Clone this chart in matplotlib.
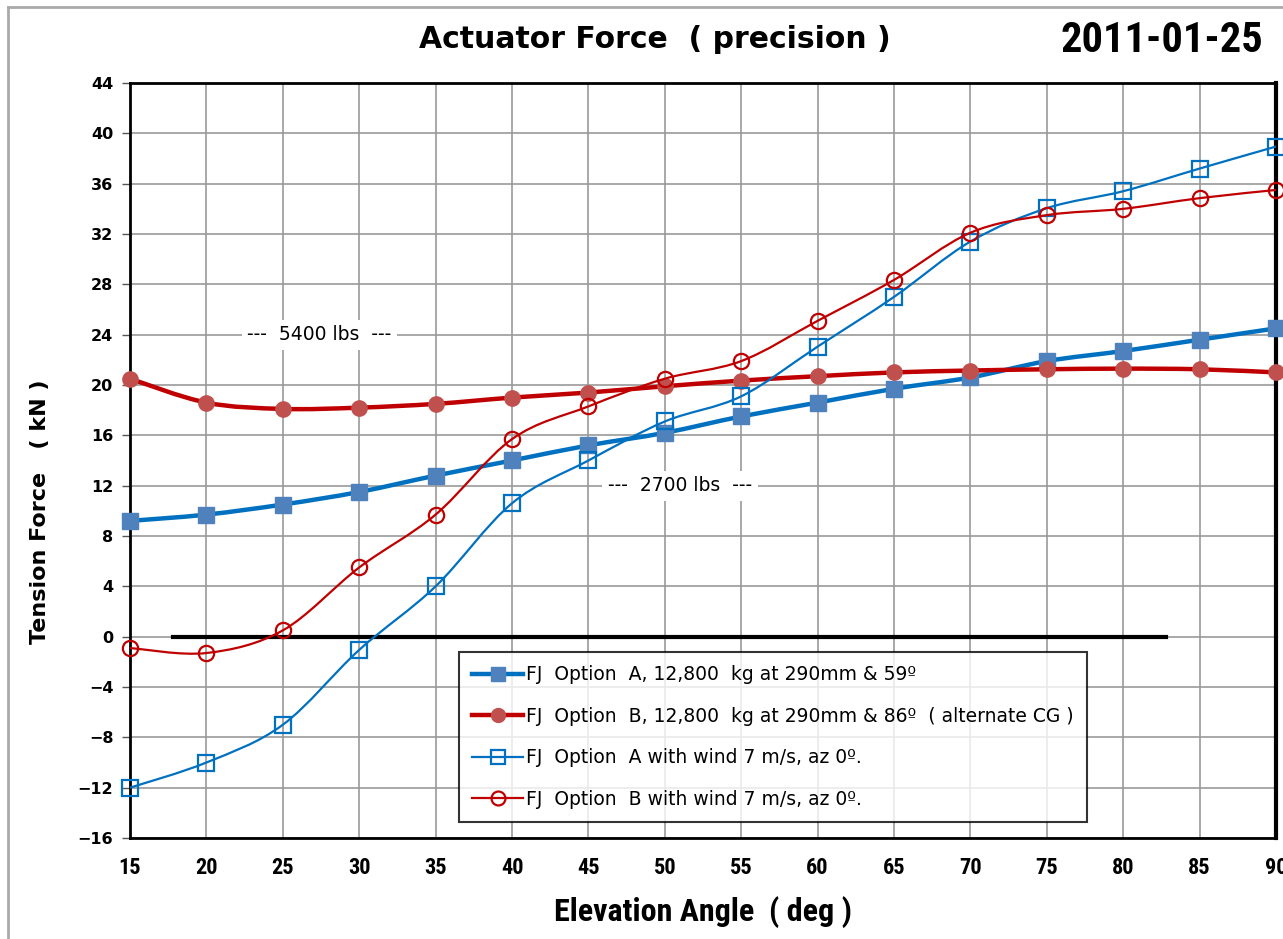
import matplotlib
matplotlib.use('Agg')
import matplotlib.pyplot as plt
from matplotlib.path import Path
from matplotlib.patches import PathPatch
from matplotlib.lines import Line2D
from matplotlib import font_manager
import numpy as np

# elevation angle (deg)
angles = [15, 20, 25, 30, 35, 40, 45, 50, 55, 60, 65, 70, 75, 80, 85, 90]

# tension force (kN)
opt_a = [9.2, 9.7, 10.5, 11.5, 12.8, 14.0, 15.2, 16.2, 17.5, 18.6, 19.7, 20.6, 21.9, 22.7, 23.6, 24.5]
opt_b = [20.5, 18.6, 18.1, 18.2, 18.5, 19.0, 19.4, 19.9, 20.35, 20.7, 21.0, 21.15, 21.25, 21.3, 21.25, 21.0]
opt_a_wind = [-12.0, -10.0, -7.0, -1.05, 4.0, 10.6, 14.0, 17.1, 19.1, 23.05, 27.0, 31.4, 34.05, 35.4, 37.2, 38.95]
opt_b_wind = [-0.9, -1.3, 0.5, 5.5, 9.7, 15.7, 18.3, 20.5, 21.9, 25.1, 28.35, 32.1, 33.5, 34.0, 34.85, 35.5]

labels = ['FJ  Option  A, 12,800  kg at 290mm & 59º',
          'FJ  Option  B, 12,800  kg at 290mm & 86º  ( alternate CG )',
          'FJ  Option  A with wind 7 m/s, az 0º.',
          'FJ  Option  B with wind 7 m/s, az 0º.']

zero_line_x = [17.8, 82.8]
yticks = list(range(-16, 45, 4))

BLUE = '#0070C0'
BLUE_FILL = '#4F81BD'
RED = '#C00000'
RED_FILL = '#C0504D'

# pick a narrow face if one is around, otherwise plain DejaVu
installed = {f.name for f in font_manager.fontManager.ttflist}
narrow_ok = False
NARROW = 'DejaVu Sans'
for cand in ['Roboto Condensed', 'Liberation Sans Narrow', 'Open Sans Condensed', 'DejaVu Sans Condensed']:
    if cand in installed:
        NARROW = cand
        narrow_ok = True
        break
nscale = 1.0 if narrow_ok else 0.78


def smooth_path(xs, ys, t=1.0 / 6):
    # excel-like smoothed line: cubic bezier through every point
    pts = np.column_stack([xs, ys]).astype(float)
    n = len(pts)
    verts = [pts[0]]
    codes = [Path.MOVETO]
    for i in range(n - 1):
        p0 = pts[max(i - 1, 0)]
        p1 = pts[i]
        p2 = pts[i + 1]
        p3 = pts[min(i + 2, n - 1)]
        c1 = p1 + (p2 - p0) * t
        c2 = p2 - (p3 - p1) * t
        verts += [c1, c2, p2]
        codes += [Path.CURVE4] * 3
    return Path(verts, codes)


fig = plt.figure(figsize=(12.83, 9.39), dpi=100)
ax = fig.add_axes([130 / 1283, 101 / 939, 1146 / 1283, 755 / 939])

series = [
    (opt_a, dict(color=BLUE, lw=3.2), dict(marker='s', ms=11, mfc=BLUE_FILL, mec=BLUE_FILL)),
    (opt_b, dict(color=RED, lw=3.2), dict(marker='o', ms=11, mfc=RED_FILL, mec=RED_FILL)),
    (opt_a_wind, dict(color=BLUE, lw=1.6), dict(marker='s', ms=11, mfc='none', mec=BLUE, mew=1.6)),
    (opt_b_wind, dict(color=RED, lw=1.6), dict(marker='o', ms=11, mfc='none', mec=RED, mew=1.6)),
]

handles = []
for k, (vals, lstyle, mstyle) in enumerate(series):
    z = 3 + k
    ax.add_patch(PathPatch(smooth_path(angles, vals), fill=False,
                           edgecolor=lstyle['color'], lw=lstyle['lw'], zorder=z))
    ax.plot(angles, vals, linestyle='none', zorder=z, clip_on=False, **mstyle)
    handles.append(Line2D([], [], color=lstyle['color'], lw=lstyle['lw'],
                          markersize=10, **{kk: v for kk, v in mstyle.items() if kk != 'ms'}))

# zero reference line
ax.plot(zero_line_x, [0, 0], color='black', lw=3, zorder=2.5)

ax.set_xlim(15, 90)
ax.set_ylim(-16, 44)
ax.set_xticks(angles)
ax.set_yticks(yticks)
ax.grid(True, color='#999999', lw=1.2, zorder=0)
ax.set_axisbelow(True)

for side in ['left', 'bottom', 'top']:
    ax.spines[side].set_linewidth(2)
ax.spines['right'].set_linewidth(3)

ax.tick_params(axis='y', direction='out', length=6, width=1, color='#555555', pad=6)
ax.tick_params(axis='x', direction='out', length=0, pad=14)
for lab in ax.get_yticklabels():
    lab.set_fontweight('bold')
    lab.set_fontsize(11.5)
for lab in ax.get_xticklabels():
    lab.set_family(NARROW)
    lab.set_fontweight('bold')
    lab.set_fontsize(16 * nscale)

ax.set_xlabel('Elevation Angle  ( deg )', family=NARROW, fontweight='bold',
              fontsize=23 * nscale, labelpad=12)
ax.set_ylabel('Tension Force   ( kN )', fontweight='bold', fontsize=16)
ax.yaxis.set_label_coords(-0.07, 0.432)

# unit notes
ax.text(27.4, 24, '---  5400 lbs  ---', ha='center', va='center', fontsize=13.5,
        bbox=dict(facecolor='white', edgecolor='none', pad=4), zorder=2)
ax.text(51.0, 12, '---  2700 lbs  ---', ha='center', va='center', fontsize=13.5,
        bbox=dict(facecolor='white', edgecolor='none', pad=4), zorder=2)

leg = ax.legend(handles, labels, loc='upper left', bbox_to_anchor=(0.287, 0.2464),
                fontsize=13.5, frameon=True, fancybox=False, handlelength=2.7,
                handletextpad=0.15, labelspacing=1.2, borderpad=0.72, borderaxespad=0)
leg.get_frame().set_edgecolor('black')
leg.get_frame().set_linewidth(1.5)
leg.set_zorder(10)

fig.text(655 / 1283, 1 - 40 / 939, 'Actuator Force  ( precision )', ha='center', va='center',
         fontsize=21.5, fontweight='bold')
fig.text(1162 / 1283, 1 - 40 / 939, '2011-01-25', ha='center', va='center',
         family=NARROW, fontsize=30.5 if narrow_ok else 22.5, fontweight='bold')

# chart area border
fig.add_artist(Line2D([8 / 1283, 8 / 1283], [0, 1 - 7 / 939], color='#aaaaaa', lw=2,
                      transform=fig.transFigure))
fig.add_artist(Line2D([8 / 1283, 1], [1 - 7 / 939, 1 - 7 / 939], color='#aaaaaa', lw=2,
                      transform=fig.transFigure))

fig.savefig('out.png', dpi=100)
